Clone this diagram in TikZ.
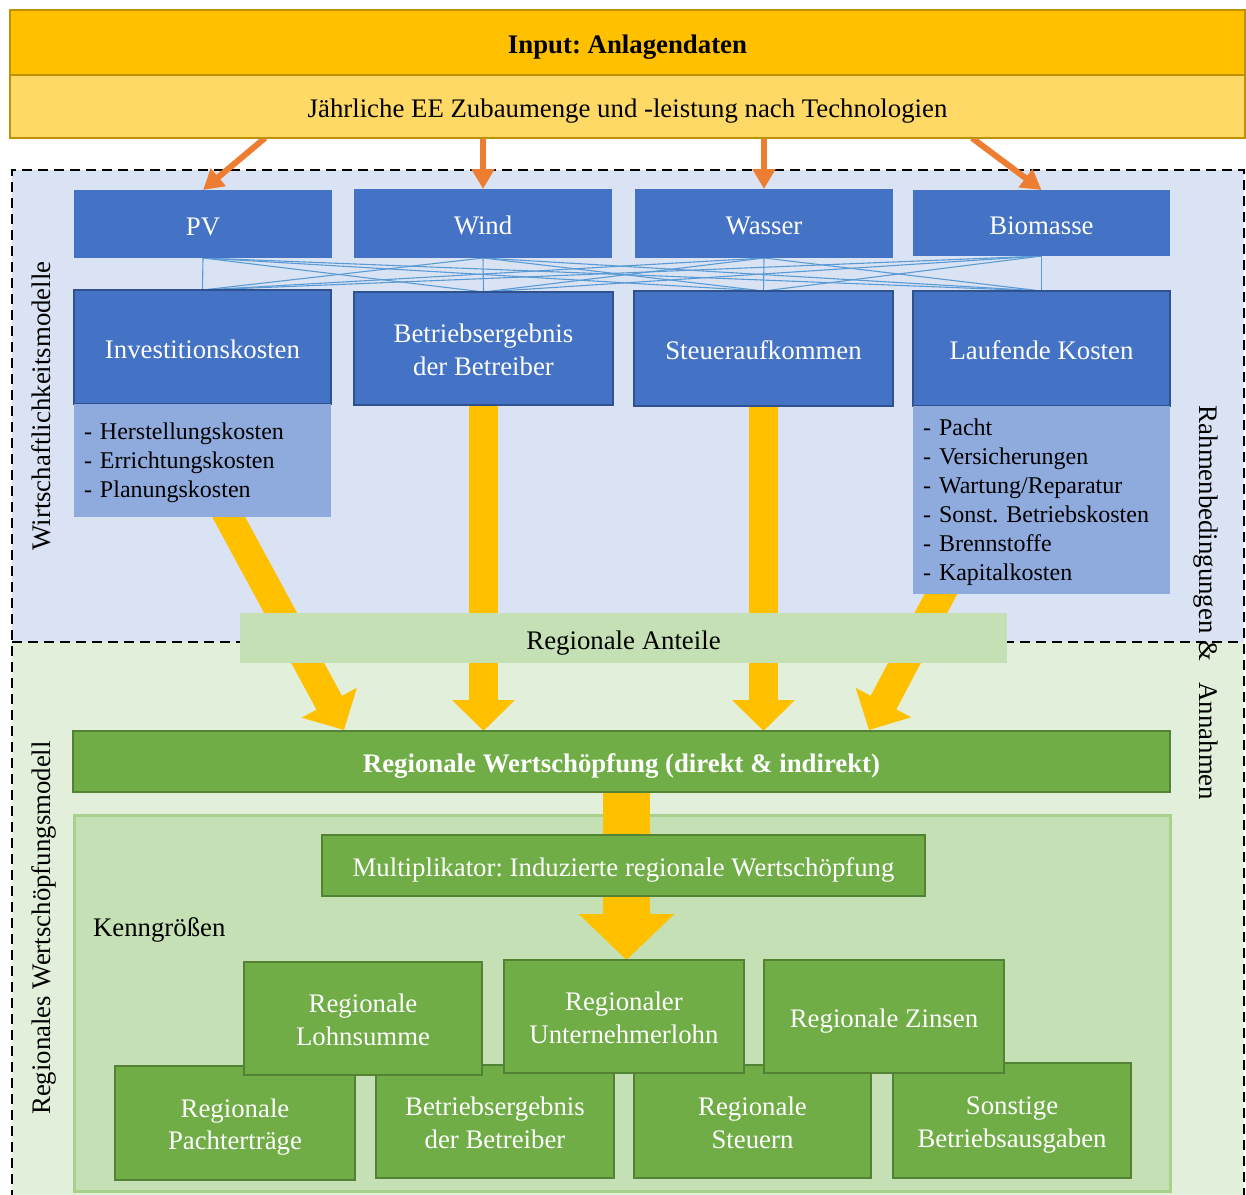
\documentclass[tikz,border=0pt]{standalone}
\usepackage{fontspec}
\setmainfont{Liberation Serif}
\usetikzlibrary{arrows.meta}
\frenchspacing
\newcommand{\myfirststrut}{\rule{0pt}{27pt}}
\definecolor{cGold}{HTML}{FFC000}
\definecolor{cGoldL}{HTML}{FFD966}
\definecolor{cGoldB}{HTML}{BF9000}
\definecolor{cOrange}{HTML}{ED7D31}
\definecolor{cBlue}{HTML}{4472C4}
\definecolor{cBlueB}{HTML}{2F528F}
\definecolor{cBlueL}{HTML}{8FAADC}
\definecolor{cLine}{HTML}{5B9BD5}
\definecolor{cBgBlue}{HTML}{DAE3F3}
\definecolor{cBgGreen}{HTML}{E2EFDA}
\definecolor{cGreen}{HTML}{70AD47}
\definecolor{cGreenB}{HTML}{548235}
\definecolor{cGreenL}{HTML}{C5E0B4}
\definecolor{cGreenLB}{HTML}{A9D18E}
\pgfdeclarelayer{back}
\pgfdeclarelayer{links}
\pgfsetlayers{back,links,main}
\begin{document}
\begin{tikzpicture}[x=1pt,y=-1pt,
  every node/.style={inner sep=0pt, outer sep=0pt},
  big/.style={font=\fontsize{26.8}{32.5}\selectfont,
    execute at begin node={\rule{0pt}{27.9pt}},
    execute at end node={\rule[-5.8pt]{0pt}{5.8pt}}},
  bigbf/.style={big, font=\fontsize{26.8}{32.5}\selectfont\bfseries},
  small/.style={font=\fontsize{24}{29}\selectfont,
    execute at begin node={\rule{0pt}{21.4pt}},
    execute at end node={\rule[-5.2pt]{0pt}{5.2pt}}},
  techbox/.style={big, fill=cBlue, text=white, align=center},
  costbox/.style={big, fill=cBlue, draw=cBlueB, line width=2.5pt, text=white, align=center},
  detailbox/.style={small, fill=cBlueL, align=left},
  greenbox/.style={big, fill=cGreen, draw=cGreenB, line width=2.5pt, text=white, align=center},
  goldbox/.style={big, draw=cGoldB, line width=2.5pt, align=center},
  orangearrow/.style={draw=cOrange, line width=6pt, -{Triangle[length=20pt,width=22pt]}},
  yarrow/.style={draw=cGold, line width=29pt, -{Triangle[length=31pt,width=61pt]}},
  yarrowbig/.style={draw=cGold, line width=47pt, -{Triangle[length=46pt,width=93pt]}},
  link/.style={draw=cLine, line width=1.1pt},
  dashedline/.style={draw=black, line width=2.5pt, dash pattern=on 10pt off 6pt}
]
\useasboundingbox (0,0) rectangle (1246,1194);

% --- input boxes
\node[goldbox, bigbf, fill=cGold, minimum width=1235, minimum height=65] (input) at (627.5,42.5) {Input: Anlagendaten};
\node[goldbox, fill=cGoldL, minimum width=1235, minimum height=63] (jahr) at (627.5,106.5) {Jährliche EE Zubaumenge und -leistung nach Technologien};

% --- tech boxes
\node[techbox, minimum width=258, minimum height=68] (pv) at (203,224) {PV};
\node[techbox, minimum width=258, minimum height=69] (wind) at (483,223.5) {Wind};
\node[techbox, minimum width=258, minimum height=69] (wasser) at (764,223.5) {Wasser};
\node[techbox, minimum width=257, minimum height=66] (bio) at (1041.5,223) {Biomasse};

% --- cost boxes
\node[costbox, minimum width=257, minimum height=114] (inv) at (202.5,347) {Investitionskosten};
\node[costbox, minimum width=259, minimum height=113] (betr) at (483.5,348.5) {\myfirststrut Betriebsergebnis\\der Betreiber};
\node[costbox, minimum width=259, minimum height=115] (steuer) at (763.5,348.5) {Steueraufkommen};
\node[costbox, minimum width=257, minimum height=115] (lauf) at (1041.5,348.5) {Laufende Kosten};

% --- detail boxes
\node[detailbox, minimum width=257, minimum height=113, text width=237] (invd) at (202.5,460.5) {- Herstellungskosten\\- Errichtungskosten\\- Planungskosten};
\node[detailbox, minimum width=257, minimum height=188, text width=237] (laufd) at (1041.5,500) {- Pacht\\- Versicherungen\\- Wartung/Reparatur\\- Sonst. Betriebskosten\\- Brennstoffe\\- Kapitalkosten};

% --- regionale Anteile
\node[big, fill=cGreenL, minimum width=767, minimum height=50] (ant) at (623.5,638) {Regionale Anteile};

% --- regionale Wertschoepfung
\node[greenbox, bigbf, minimum width=1097, minimum height=61] (rw) at (621.5,761.5) {Regionale Wertschöpfung (direkt \& indirekt)};

% --- background layer
\begin{pgfonlayer}{back}
\fill[white] (0,0) rectangle (1246,1194);
\fill[cBgBlue] (12,170) rectangle (1244,642);
\fill[cBgGreen] (12,642) rectangle (1244,1200);
\draw[dashedline] (12,1200) -- (12,170) -- (1244,170) -- (1244,1200);
\draw[dashedline] (12,642) -- (1244,642);
\node[fill=cGreenL, draw=cGreenLB, line width=3pt, minimum width=1096, minimum height=376] (kenn) at (622.5,1003) {};
\end{pgfonlayer}

\node[greenbox, minimum width=603, minimum height=61] (multi) at (623.5,865.5) {Multiplikator: Induzierte regionale Wertschöpfung};
\node[big, anchor=west] (kenntext) at (93,925) {Kenngrößen};

% --- bottom row (behind)
\node[greenbox, minimum width=240, minimum height=114] (pacht) at (235,1123) {\myfirststrut Regionale\\Pachterträge};
\node[greenbox, minimum width=238, minimum height=113] (betr2) at (495,1121.5) {\myfirststrut Betriebsergebnis\\der Betreiber};
\node[greenbox, minimum width=237, minimum height=113] (steuern) at (752.5,1121.5) {\myfirststrut Regionale\\Steuern};
\node[greenbox, minimum width=238, minimum height=115] (sonst) at (1012,1120.5) {\myfirststrut Sonstige\\Betriebsausgaben};
% --- top row (in front)
\node[greenbox, minimum width=238, minimum height=113] (lohn) at (363,1018.5) {\myfirststrut Regionale\\Lohnsumme};
\node[greenbox, minimum width=240, minimum height=113] (unter) at (624,1016.5) {\myfirststrut Regionaler\\Unternehmerlohn};
\node[greenbox, minimum width=240, minimum height=113] (zinsen) at (884,1016.5) {Regionale Zinsen};

% --- side labels
\node[big, rotate=90] (lab1) at (39,406) {Wirtschaftlichkeitsmodelle};
\node[big, rotate=90] (lab2) at (39,928) {Regionales Wertschöpfungsmodell};
\node[big, rotate=-90] (lab3) at (1211,603) {Rahmenbedingungen \&\hspace{0.8em}Annahmen};

% --- connectors
\coordinate (o1) at (265,138);
\coordinate (o2) at (483,138);
\coordinate (o3) at (764,138);
\coordinate (o4) at (972,138);
\coordinate (y1s) at (207,477);
\coordinate (y1e) at (344,730);
\coordinate (y4s) at (962,554);
\coordinate (y4e) at (869,730);
\coordinate (rwarr) at (626.5,775);
\begin{pgfonlayer}{links}
\foreach \t in {pv,wind,wasser,bio}{
  \foreach \c in {inv,betr,steuer,lauf}{
    \draw[link] (\t.south) -- (\c.north);
  }
}
\draw[orangearrow] (o1) -- (pv.north);
\draw[orangearrow] (o2) -- (wind.north);
\draw[orangearrow] (o3) -- (wasser.north);
\draw[orangearrow] (o4) -- (bio.north);
\draw[yarrow] (y1s) -- (y1e);
\draw[yarrow] (betr.center) -- (betr.center |- rw.north);
\draw[yarrow] (steuer.center) -- (steuer.center |- rw.north);
\draw[yarrow] (y4s) -- (y4e);
\draw[yarrowbig] (rwarr) -- (rwarr |- unter.north);
\end{pgfonlayer}
\end{tikzpicture}
\end{document}
